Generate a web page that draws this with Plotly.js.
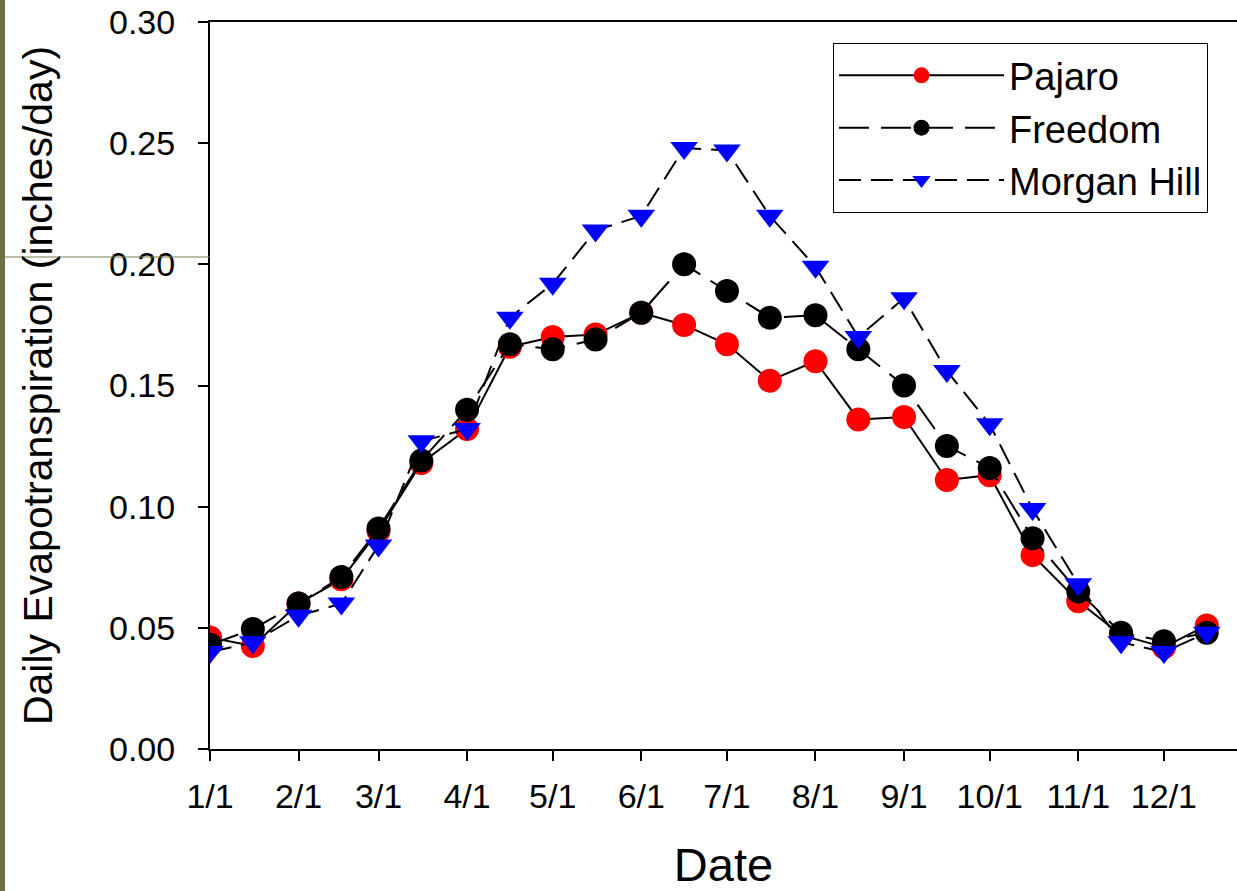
<!DOCTYPE html>
<html>
<head>
<meta charset="utf-8">
<script src="https://cdn.plot.ly/plotly-3.0.1.min.js"></script>
<style>html,body{margin:0;padding:0;background:#fff;}#chart{width:1237px;height:891px;}</style>
</head>
<body>
<div id="chart"></div>
<script>
const dates = [
  "2001-01-01","2001-01-16","2001-02-01","2001-02-16","2001-03-01","2001-03-16",
  "2001-04-01","2001-04-16","2001-05-01","2001-05-16","2001-06-01","2001-06-16",
  "2001-07-01","2001-07-16","2001-08-01","2001-08-16","2001-09-01","2001-09-16",
  "2001-10-01","2001-10-16","2001-11-01","2001-11-16","2001-12-01","2001-12-16"
];
const pajaro = [0.046,0.0425,0.060,0.070,0.090,0.118,0.132,0.166,0.170,0.171,0.180,0.175,
                0.167,0.152,0.160,0.136,0.137,0.111,0.113,0.080,0.061,0.047,0.042,0.051];
const freedom = [0.043,0.0495,0.060,0.071,0.091,0.119,0.140,0.167,0.165,0.169,0.180,0.200,
                 0.189,0.178,0.179,0.165,0.150,0.125,0.116,0.087,0.065,0.048,0.0445,0.048];
const morganHill = [0.040,0.044,0.055,0.060,0.084,0.127,0.132,0.178,0.192,0.214,0.220,0.248,
                    0.247,0.220,0.199,0.170,0.186,0.156,0.134,0.099,0.068,0.044,0.040,0.048];
const tickDates = ["2001-01-01","2001-02-01","2001-03-01","2001-04-01","2001-05-01","2001-06-01",
                   "2001-07-01","2001-08-01","2001-09-01","2001-10-01","2001-11-01","2001-12-01"];
const tickLabels = ["1/1","2/1","3/1","4/1","5/1","6/1","7/1","8/1","9/1","10/1","11/1","12/1"];
const seriesNames = ["Pajaro","Freedom","Morgan Hill"];

const FONT = "Liberation Sans, Arial, sans-serif";

const traces = [
  {x: dates, y: pajaro, name: seriesNames[0], mode: "lines+markers", type: "scatter",
   line: {color: "#000", width: 2, dash: "solid"},
   marker: {symbol: "circle", size: 24, color: "#ff0000"}},
  {x: dates, y: freedom, name: seriesNames[1], mode: "lines+markers", type: "scatter",
   line: {color: "#000", width: 2, dash: "30px,12px"},
   marker: {symbol: "circle", size: 24, color: "#000000"}},
  {x: dates, y: morganHill, name: seriesNames[2], mode: "lines+markers", type: "scatter",
   line: {color: "#000", width: 2, dash: "22px,10px"},
   marker: {symbol: "triangle-down", size: 24, color: "#0000ff"}}
];

const layout = {
  width: 1237, height: 891,
  margin: {l: 210, r: 0, t: 22, b: 142},
  paper_bgcolor: "#fff", plot_bgcolor: "#fff",
  font: {family: FONT, color: "#000", size: 34},
  showlegend: true,
  legend: {
    x: 0.6066, y: 0.971, xanchor: "left", yanchor: "top",
    bordercolor: "#000", borderwidth: 1, bgcolor: "#fff",
    font: {family: FONT, size: 38, color: "#000"},
    itemwidth: 165, itemsizing: "trace"
  },
  xaxis: {
    type: "date",
    range: ["2001-01-01", "2001-12-26 14:00"],
    tickmode: "array", tickvals: tickDates, ticktext: tickLabels,
    showgrid: false, zeroline: false,
    showline: true, linecolor: "#000", linewidth: 2, mirror: true,
    ticks: "outside", ticklen: 10, tickwidth: 2, tickcolor: "#000",
    ticklabelstandoff: 6,
    tickfont: {family: FONT, size: 34, color: "#000"},
    title: {text: "Date", font: {family: FONT, size: 47, color: "#000"}, standoff: 38}
  },
  yaxis: {
    range: [0, 0.30], dtick: 0.05, tick0: 0, tickformat: ".2f",
    showgrid: false, zeroline: false,
    showline: true, linecolor: "#000", linewidth: 2,
    ticks: "outside", ticklen: 10, tickwidth: 2, tickcolor: "#000",
    ticklabelstandoff: 16,
    tickfont: {family: FONT, size: 34, color: "#000"},
    title: {text: "Daily Evapotranspiration (inches/day)", font: {family: FONT, size: 41, color: "#000"}, standoff: 44}
  },
  shapes: [
    {type: "line", xref: "paper", yref: "paper", x0: -210/1027, x1: 0, y0: (749-257)/727, y1: (749-257)/727,
     line: {color: "#7d7d50", width: 1}},
    {type: "rect", xref: "paper", yref: "paper", x0: -210/1027, x1: -205/1027, y0: -142/727, y1: 769/727,
     line: {width: 0}, fillcolor: "#6f6f45"}
  ]
};

Plotly.newPlot("chart", traces, layout, {displayModeBar: false, staticPlot: true});
</script>
</body>
</html>
